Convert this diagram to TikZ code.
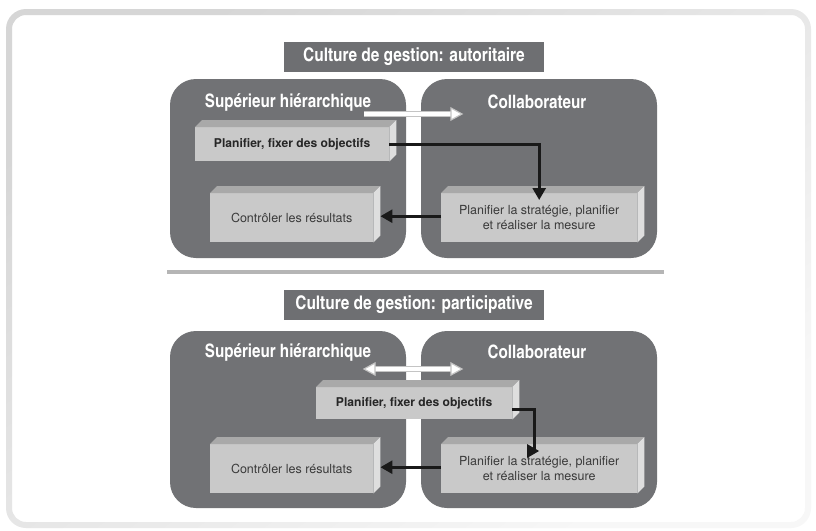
\documentclass[tikz,border=0pt]{standalone}
\usepackage{fontspec}
\setmainfont{texgyreheroscn}[Extension=.otf, UprightFont=*-regular, BoldFont=*-bold]
\newfontfamily\widefont{texgyreheros}[Extension=.otf, UprightFont=*-regular, BoldFont=*-bold]
\usetikzlibrary{arrows.meta,calc}

\definecolor{panelgray}{HTML}{717275}
\definecolor{titlegray}{HTML}{6E6F72}
\definecolor{frontgray}{HTML}{C9C9C9}
\definecolor{topgray}{HTML}{A9A9A9}
\definecolor{sidegray}{HTML}{DEDEDE}
\definecolor{rulegray}{HTML}{B5B5B5}
\definecolor{outline}{HTML}{C4C4C4}
\definecolor{inktext}{HTML}{3A3A3A}

\tikzset{
  panel/.style={fill=panelgray, rounded corners=26pt, draw=none},
  titlebox/.style={fill=titlegray, text=white, inner sep=0pt, minimum width=260pt,
    minimum height=30pt, font=\fontsize{18.8}{20}\selectfont\bfseries},
  panellabel/.style={text=white, inner sep=0pt, font=\fontsize{18.5}{20}\selectfont\bfseries},
  front/.style={fill=frontgray, inner sep=0pt, anchor=north west, align=center,
    text=inktext, font=\widefont\fontsize{12.5}{15}\selectfont},
  boldfront/.style={front, text=black!85, font=\widefont\fontsize{12.1}{15}\selectfont\bfseries},
  flow/.style={line width=2.6pt, draw=black!90,
    -{Triangle[length=12pt,width=13pt]}},
  hollowshaft/.style={line width=6pt, draw=outline},
  hollowcore/.style={line width=3.2pt, draw=white},
  hollowtip/.style={fill=white, draw=outline, line width=1.2pt, line join=miter},
}

% top and right faces of a raised block, drawn onto its front-face node
\newcommand{\blockfaces}[1]{%
  \fill[topgray] (#1.north west) -- ++(7,-7) -- ($(#1.north east)+(7,-7)$) -- (#1.north east) -- cycle;
  \fill[sidegray] (#1.north east) -- ++(7,-7) -- ($(#1.south east)+(7,-7)$) -- (#1.south east) -- cycle;
}

\begin{document}
\begin{tikzpicture}[x=1pt,y=-1pt]
\useasboundingbox (0,0) rectangle (816,530);
\fill[white] (0,0) rectangle (816,530);

% outer frame
\shade[even odd rule, shading=axis, top color=black!16, bottom color=black!3, shading angle=35]
  [rounded corners=20pt] (6,9) rectangle (811,528)
  [rounded corners=14pt] (12,15) rectangle (805,522);

% ---------- authoritarian culture ----------
\node[titlebox] (t1) at (414,57) {Culture de gestion: autoritaire};

\fill[panel] (170,79) rectangle (406,258);
\fill[panel] (421,79) rectangle (657,258);
\node[panellabel] (sup1) at (288,102) {Supérieur hiérarchique};
\node[panellabel] (col1) at (537,102) {Collaborateur};

\node[boldfront, minimum width=194pt, minimum height=34pt] (pf1) at (195,127) {Planifier, fixer des objectifs};
\node[front, minimum width=163pt, minimum height=49pt] (ct1) at (210,193) {Contrôler les résultats};
\node[front, minimum width=196pt, minimum height=49pt] (ps1) at (441,193) {Planifier la stratégie, planifier\\et réaliser la mesure};
\blockfaces{pf1}
\blockfaces{ct1}
\blockfaces{ps1}

% hand-over arrow between the panels
\coordinate (h1a) at (364,114);
\coordinate (h1b) at (451,114);
\draw[hollowshaft] (h1a) -- (h1b);
\draw[hollowcore] (h1a) -- ([xshift=1pt]h1b);
\draw[hollowtip] ([yshift=-6pt]h1b) -- ([xshift=11pt]h1b) -- ([yshift=6pt]h1b) -- cycle;

\draw[flow] (pf1.east) -| ([yshift=-7pt]ps1.north);
\draw[flow] ([yshift=1.5pt]ps1.west) -- ([xshift=7pt,yshift=1.5pt]ct1.east);

% separator
\draw[rulegray, line width=4pt] (167,272) -- (664,272);

% ---------- participative culture ----------
\node[titlebox] (t2) at (414,305) {Culture de gestion: participative};

\fill[panel] (170,331) rectangle (406,508);
\fill[panel] (421,331) rectangle (657,508);
\node[panellabel] (sup2) at (288,352) {Supérieur hiérarchique};
\node[panellabel] (col2) at (537,352) {Collaborateur};

\node[boldfront, minimum width=196pt, minimum height=32pt] (pf2) at (316,387) {Planifier, fixer des objectifs};
\node[front, minimum width=163pt, minimum height=49pt] (ct2) at (210,444) {Contrôler les résultats};
\node[front, minimum width=196pt, minimum height=49pt] (ps2) at (441,444) {Planifier la stratégie, planifier\\et réaliser la mesure};
\blockfaces{pf2}
\blockfaces{ct2}
\blockfaces{ps2}

% two-way exchange arrow between the panels
\coordinate (h2a) at (375,369);
\coordinate (h2b) at (451,369);
\draw[hollowshaft] (h2a) -- (h2b);
\draw[hollowcore] ([xshift=-1pt]h2a) -- ([xshift=1pt]h2b);
\draw[hollowtip] ([yshift=-6pt]h2b) -- ([xshift=11pt]h2b) -- ([yshift=6pt]h2b) -- cycle;
\draw[hollowtip] ([yshift=-6pt]h2a) -- ([xshift=-11pt]h2a) -- ([yshift=6pt]h2a) -- cycle;

\draw[flow] ([yshift=-6pt]pf2.east) -- ++(22,0) |- ([yshift=-7pt]ps2.north);
\draw[flow] ([yshift=1.5pt]ps2.west) -- ([xshift=7pt,yshift=1.5pt]ct2.east);
\end{tikzpicture}
\end{document}
